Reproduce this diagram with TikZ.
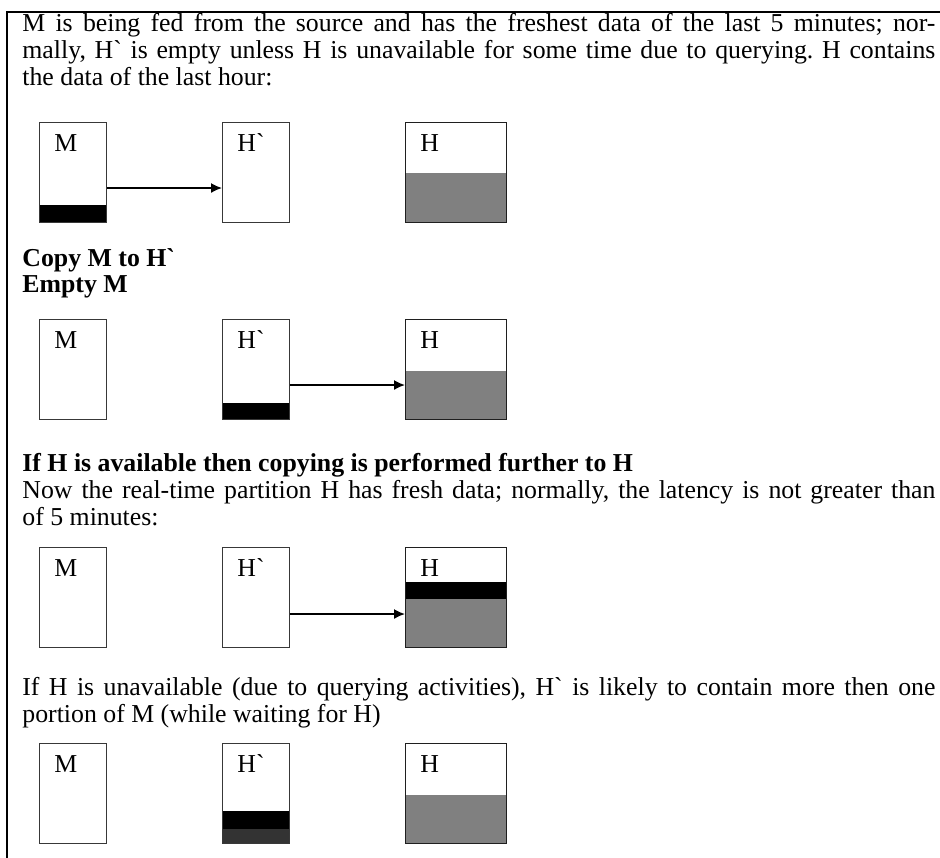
\documentclass[tikz,border=0pt]{standalone}
\usepackage{fontspec}
\setmainfont{Liberation Serif}[Ligatures=TeXOff]
\usetikzlibrary{arrows.meta}
\frenchspacing
\newlength{\linew}
\setlength{\linew}{456.5pt}
\newcommand{\jline}[1]{\makebox[\linew][s]{#1}}
\begin{document}
\begin{tikzpicture}[x=0.5pt,y=-0.5pt,
  txt/.style={anchor=base west, inner sep=0pt, font=\fontsize{12.9}{14}\selectfont},
  btxt/.style={txt, font=\fontsize{12.9}{14}\selectfont\bfseries},
  part/.style={draw=black!78, line width=0.6pt, anchor=north west, inner sep=0pt,
    minimum height=50pt},
  narrow/.style={part, minimum width=33.5pt},
  wide/.style={part, draw=black!88, line width=0.7pt, minimum width=50.5pt},
  lbl/.style={anchor=base west, inner sep=0pt, font=\fontsize{12.9}{14}\selectfont},
  flow/.style={-{Latex[length=5.5pt,width=5pt]}, line width=0.8pt},
  frame/.style={line width=1.25pt, line cap=rect},
  % fill levels inside a partition, measured up from its bottom edge
  level/.style 2 args={path picture={
    \fill[#1] (path picture bounding box.south west)
      rectangle ([yshift=#2]path picture bounding box.south east);}},
  level3/.style={path picture={
    \fill[black!80] (path picture bounding box.south west)
      rectangle ([yshift=7.5pt]path picture bounding box.south east);
    \fill[black] ([yshift=7.5pt]path picture bounding box.south west)
      rectangle ([yshift=16.5pt]path picture bounding box.south east);}},
  level4/.style={path picture={
    \fill[black!50] (path picture bounding box.south west)
      rectangle ([yshift=24.5pt]path picture bounding box.south east);
    \fill[black] ([yshift=24.5pt]path picture bounding box.south west)
      rectangle ([yshift=33pt]path picture bounding box.south east);}}
]
\useasboundingbox (0,0) rectangle (940,857);

% page frame: top and left rules
\coordinate (ftr) at (940,12);
\coordinate (ftl) at (7,12);
\coordinate (fbl) at (7,857);
\draw[frame] (ftr) -- (ftl) -- (fbl);

% ---- state 1 ----
\node[txt] (t1a) at (22,31) {\jline{M is being fed from the source and has the freshest data of the last 5 minutes; nor-}};
\node[txt] (t1b) at (22,58) {\jline{mally, H` is empty unless H is unavailable for some time due to querying. H contains}};
\node[txt] (t1c) at (22,85) {the data of the last hour:};

\node[narrow, level={black}{9pt}] (m1) at (39,122) {};
\node[narrow] (hp1) at (222,122) {};
\node[wide, level={black!50}{25pt}] (h1) at (405,122) {};
\node[lbl] (m1l) at (54,151) {M};
\node[lbl] (hp1l) at (237,151) {H`};
\node[lbl] (h1l) at (420,151) {H};
\draw[flow] (m1.east |- 0,188) coordinate (a1s) -- (hp1.west |- a1s);

% ---- state 2 ----
\node[btxt] (t2a) at (22,266) {Copy M to H`};
\node[btxt] (t2b) at (22,292) {Empty M};

\node[narrow] (m2) at (39,319) {};
\node[narrow, level={black}{8.5pt}] (hp2) at (222,319) {};
\node[wide, level={black!50}{24.5pt}] (h2) at (405,319) {};
\node[lbl] (m2l) at (54,348) {M};
\node[lbl] (hp2l) at (237,348) {H`};
\node[lbl] (h2l) at (420,348) {H};
\draw[flow] (hp2.east |- 0,385) coordinate (a2s) -- (h2.west |- a2s);

% ---- state 3 ----
\node[btxt] (t3a) at (22,471) {If H is available then copying is performed further to H};
\node[txt] (t3b) at (22,498) {\jline{Now the real-time partition H has fresh data; normally, the latency is not greater than}};
\node[txt] (t3c) at (22,525) {of 5 minutes:};

\node[narrow] (m3) at (39,547) {};
\node[narrow] (hp3) at (222,547) {};
\node[wide, level4] (h3) at (405,547) {};
\node[lbl] (m3l) at (54,576) {M};
\node[lbl] (hp3l) at (237,576) {H`};
\node[lbl] (h3l) at (420,576) {H};
\draw[flow] (hp3.east |- 0,614) coordinate (a3s) -- (h3.west |- a3s);

% ---- state 4 ----
\node[txt] (t4a) at (22,695) {\jline{If H is unavailable (due to querying activities), H` is likely to contain more then one}};
\node[txt] (t4b) at (22,722) {portion of M (while waiting for H)};

\node[narrow] (m4) at (39,743) {};
\node[narrow, level3] (hp4) at (222,743) {};
\node[wide, level={black!50}{24.5pt}] (h4) at (405,743) {};
\node[lbl] (m4l) at (54,772) {M};
\node[lbl] (hp4l) at (237,772) {H`};
\node[lbl] (h4l) at (420,772) {H};
\end{tikzpicture}
\end{document}
